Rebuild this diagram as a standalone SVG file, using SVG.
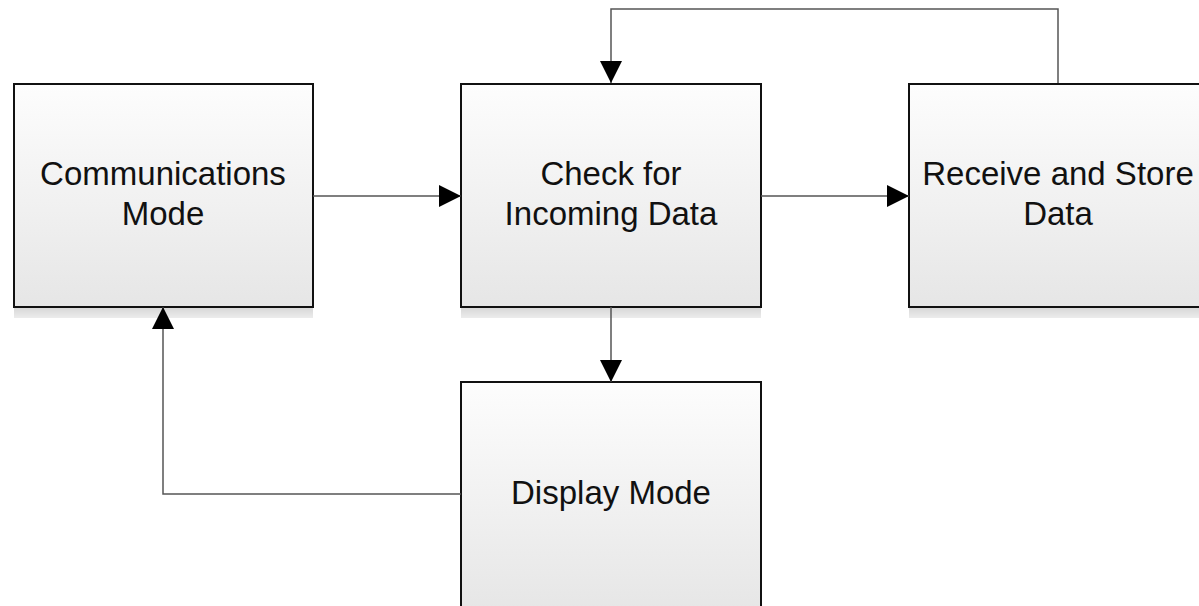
<svg xmlns="http://www.w3.org/2000/svg" width="1199" height="606" viewBox="0 0 1199 606">
<defs>
<linearGradient id="g" x1="0" y1="0" x2="0" y2="1">
<stop offset="0" stop-color="#fdfdfd"/>
<stop offset="1" stop-color="#e6e6e6"/>
</linearGradient>
<linearGradient id="sh" x1="0" y1="0" x2="0" y2="1">
<stop offset="0" stop-color="#d6d6d6"/>
<stop offset="1" stop-color="#ececec"/>
</linearGradient>
<marker id="ah" viewBox="0 0 22 22" refX="22" refY="11" markerWidth="22" markerHeight="22" markerUnits="userSpaceOnUse" orient="auto">
<path d="M0,0 L22,11 L0,22 Z" fill="#000"/>
</marker>
<style>
.box{fill:url(#g);stroke:#111;stroke-width:2}
.shadow{fill:url(#sh)}
.lbl{font-family:"Liberation Sans",Arial,sans-serif;font-size:33px;fill:#111;text-anchor:middle}
.con{fill:none;stroke:#555;stroke-width:1.5;marker-end:url(#ah)}
</style>
</defs>
<rect width="1199" height="606" fill="#fff"/>
<g id="n1">
<rect class="shadow" x="14" y="307" width="299" height="11"/>
<rect class="box" x="14" y="84" width="299" height="223"/>
<text class="lbl" x="163" y="185">Communications</text>
<text class="lbl" x="163" y="225">Mode</text>
</g>
<g id="n2">
<rect class="shadow" x="461" y="307" width="300" height="11"/>
<rect class="box" x="461" y="84" width="300" height="223"/>
<text class="lbl" x="611" y="185">Check for</text>
<text class="lbl" x="611" y="225">Incoming Data</text>
</g>
<g id="n3">
<rect class="shadow" x="909" y="307" width="300" height="11"/>
<rect class="box" x="909" y="84" width="300" height="223"/>
<text class="lbl" x="1058" y="185">Receive and Store</text>
<text class="lbl" x="1058" y="225">Data</text>
</g>
<g id="n4">
<rect class="box" x="461" y="382" width="300" height="230"/>
<text class="lbl" x="611" y="504">Display Mode</text>
</g>
<g id="connectors">
<path class="con" d="M313,196 H461"/>
<path class="con" d="M761,196 H909"/>
<path class="con" d="M611,307 V382"/>
<path class="con" d="M1058,83 V9 H611 V83"/>
<path class="con" d="M461,494 H163 V307"/>
</g>
</svg>
